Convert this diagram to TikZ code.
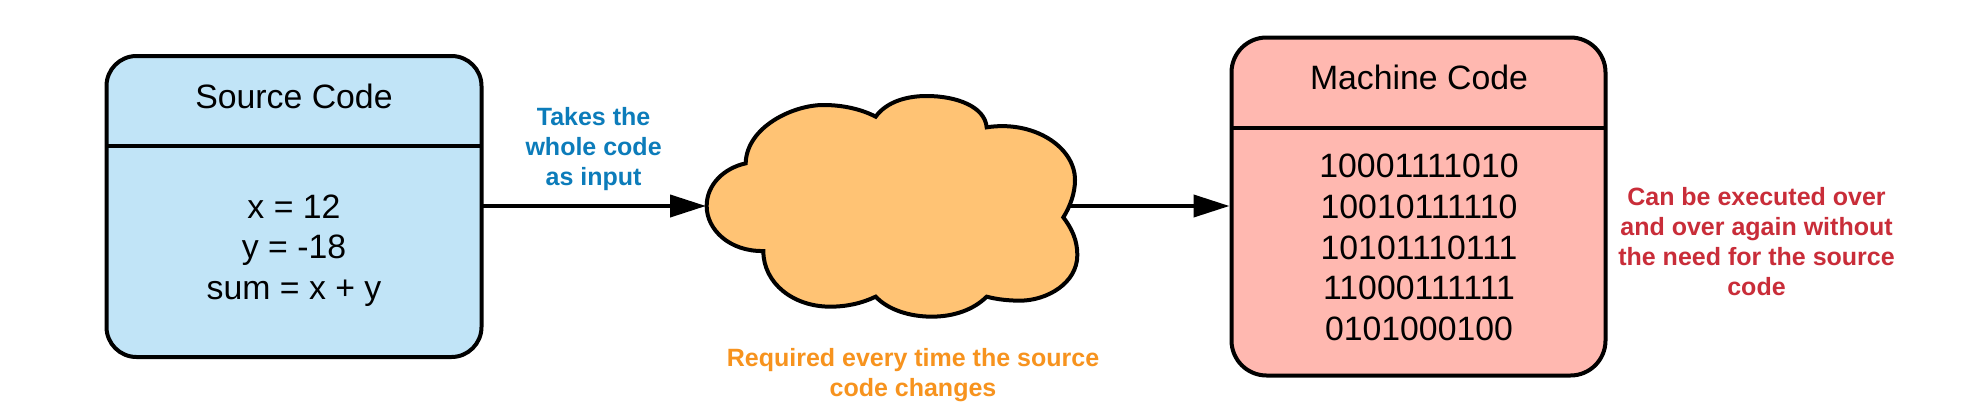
\documentclass[tikz,border=0pt]{standalone}
\usepackage{fontspec}
\setmainfont{Liberation Sans}
\usetikzlibrary{arrows.meta}
\definecolor{srcfill}{HTML}{C1E4F7}
\definecolor{machfill}{HTML}{FFB8B0}
\definecolor{cloudfill}{HTML}{FFC374}
\definecolor{bluetxt}{HTML}{0C7CBA}
\definecolor{orangetxt}{HTML}{F7931E}
\definecolor{redtxt}{HTML}{C92D39}
\tikzset{
  panel/.style={draw=black,line width=4pt,rounded corners=30pt,inner sep=0pt,outer sep=0pt},
  divider/.style={draw=black,line width=4pt},
  flow/.style={draw=black,line width=4pt,-{Triangle[length=36pt,width=22pt]}},
  bodytext/.style={align=center,inner sep=0pt,font=\fontsize{33.8pt}{40.7pt}\selectfont},
  note/.style={align=center,inner sep=0pt,font=\fontsize{25pt}{30pt}\selectfont\bfseries},
}
\begin{document}
\begin{tikzpicture}[x=1pt,y=-1pt]
\useasboundingbox (0,0) rectangle (1988,418);
\fill[white] (0,0) rectangle (1988,418);
% boxes
\node[panel,fill=srcfill,minimum width=375pt,minimum height=301pt] (src) at (294,206.5) {};
\node[panel,rounded corners=35pt,fill=machfill,minimum width=374pt,minimum height=338pt] (mach) at (1418.5,206.5) {};
\coordinate (srcdiv) at (294,146);
\coordinate (machdiv) at (1418.5,127.5);
\draw[divider] (src.west |- srcdiv) -- (src.east |- srcdiv);
\draw[divider] (mach.west |- machdiv) -- (mach.east |- machdiv);
% connectors
\coordinate (cloudE) at (1068,206);
\coordinate (cloudW) at (706,206);
\coordinate (machW) at (1229.5,206);
\draw[flow] (src.east |- cloudW) -- (cloudW);
\draw[flow] (cloudE) -- (machW);
% cloud
\begin{scope}[shift={(680,70)},x=0.33333pt,y=-0.33333pt]
\draw[line width=4pt,fill=cloudfill,draw=black,miter limit=10]
 (197,280) .. controls (200,170) and (340,105) .. (430,105)
 .. controls (490,105) and (545,118) .. (587,140)
 .. controls (620,95) and (680,78) .. (740,78)
 .. controls (830,78) and (915,110) .. (920,172)
 .. controls (1060,150) and (1185,230) .. (1185,330)
 .. controls (1185,370) and (1170,410) .. (1150,442)
 .. controls (1175,475) and (1192,510) .. (1192,555)
 .. controls (1192,640) and (1100,692) .. (1020,692)
 .. controls (985,692) and (950,688) .. (920,680)
 .. controls (880,720) and (820,740) .. (755,740)
 .. controls (690,740) and (625,720) .. (587,680)
 .. controls (545,700) and (500,710) .. (450,710)
 .. controls (340,710) and (250,640) .. (250,543)
 .. controls (150,545) and (80,480) .. (80,408)
 .. controls (80,345) and (130,295) .. (197,280) -- cycle;
\end{scope}
% texts
\node[bodytext,anchor=base] (srctitle) at (294,108) {Source Code};
\node[bodytext] (srcbody) at (294,250.5) {x = 12\\y = -18\\sum = x + y};
\node[bodytext,anchor=base] (machtitle) at (1419,89) {Machine Code};
\node[bodytext] (machbody) at (1419,247.5) {10001111010\\10010111110\\10101110111\\11000111111\\0101000100};
\node[note,text=bluetxt] (lblinput) at (593.6,149) {Takes the\\whole code\\as input};
\node[note,text=orangetxt] (lblchange) at (913,375.5) {Required every time the source\\code changes};
\node[note,text=redtxt] (lblexec) at (1756.5,241.5) {Can be executed over\\and over again without\\the need for the source\\code};
\end{tikzpicture}
\end{document}
